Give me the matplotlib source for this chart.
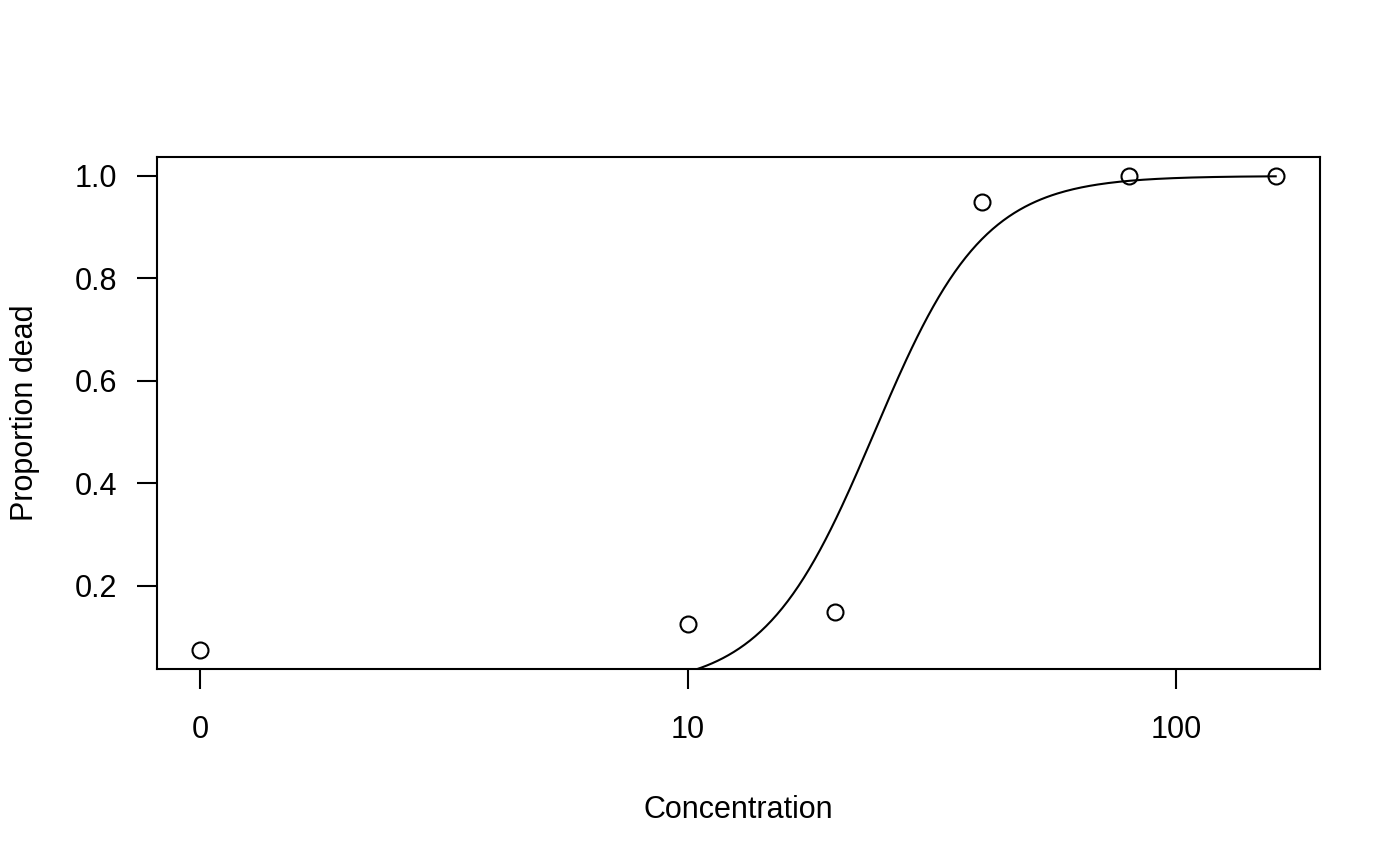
import numpy as np
import matplotlib.pyplot as plt

plt.rcParams['font.family'] = ['Liberation Sans', 'DejaVu Sans']

# observed data
conc = [0, 10, 20, 40, 80, 160]
prop_dead = [0.075, 0.125, 0.15, 0.95, 1.0, 1.0]

# fitted log-logistic curve
ed50 = 24.1
slope = 3.87

x_ticks = [1, 10, 100]
x_ticklabels = ['0', '10', '100']
y_ticks = [0.2, 0.4, 0.6, 0.8, 1.0]
y_ticklabels = ['0.2', '0.4', '0.6', '0.8', '1.0']

# zero dose is shown at the position of 1 on the log axis
conc_plot = np.where(np.array(conc) == 0, 1, conc)

grid = np.logspace(0, np.log10(160), 400)
fit = 1 / (1 + np.exp(-slope * (np.log(grid) - np.log(ed50))))

fig = plt.figure(figsize=(14, 8.66), dpi=100)
ax = fig.add_axes([0.1121, 0.2275, 0.8308, 0.5912])

ax.plot(grid, fit, color='black', lw=1.5)
ax.plot(conc_plot, prop_dead, 'o', mfc='none', mec='black', ms=11.5, mew=1.5)

ax.set_xscale('log')
ax.set_xlim(10 ** -0.088, 10 ** 2.295)
ax.set_ylim(0.038, 1.037)
ax.set_xticks(x_ticks)
ax.set_xticklabels(x_ticklabels)
ax.minorticks_off()
ax.set_yticks(y_ticks)
ax.set_yticklabels(y_ticklabels)

ax.tick_params(length=14.4, width=1.5, labelsize=22, color='black')
ax.tick_params(axis='x', pad=19)
ax.tick_params(axis='y', pad=14)
for s in ax.spines.values():
    s.set_linewidth(1.5)

ax.set_xlabel('Concentration', fontsize=22, labelpad=36)
ax.set_ylabel('Proportion dead', fontsize=22, labelpad=25)

fig.savefig('out.png', dpi=100)
